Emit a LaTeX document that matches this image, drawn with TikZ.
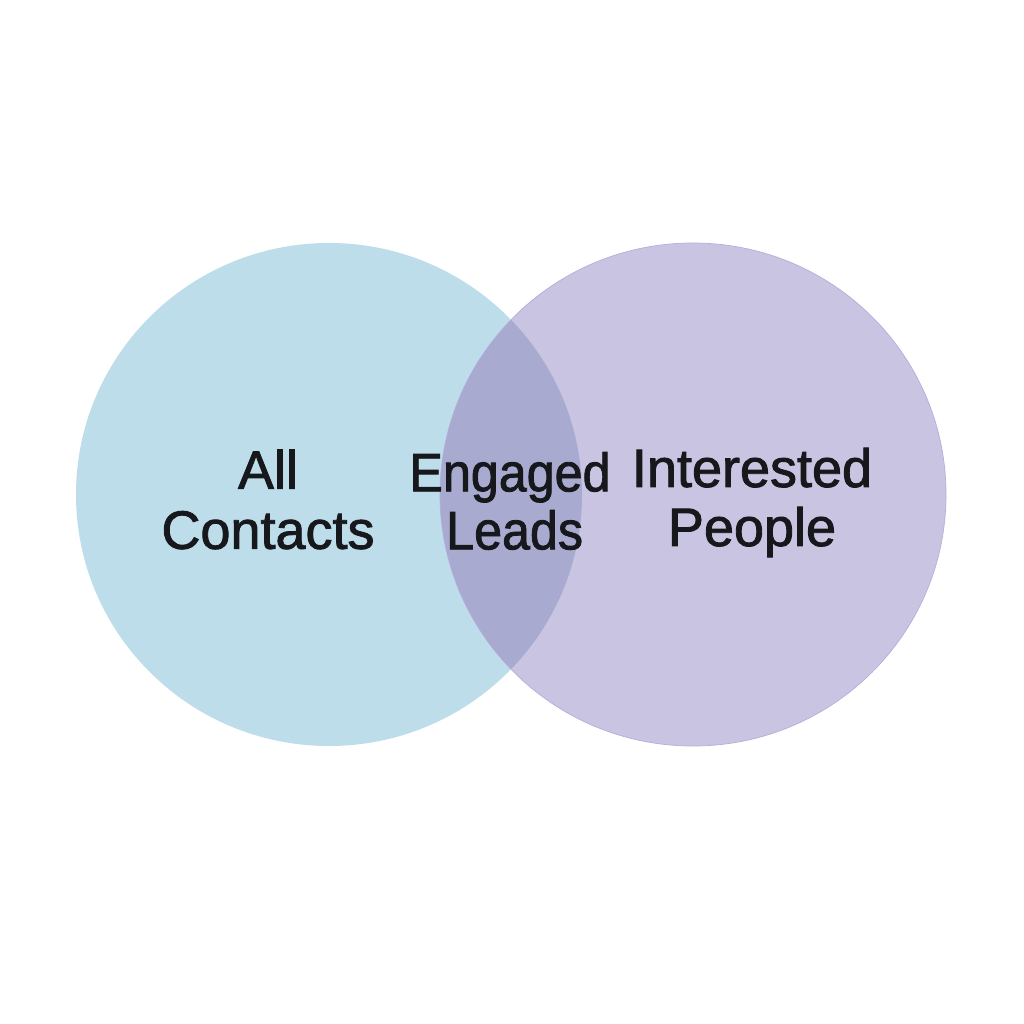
\documentclass[tikz,border=0pt]{standalone}
\usepackage{fontspec}
\setmainfont[FakeBold=1.6]{Liberation Sans}
\definecolor{cblue}{HTML}{BDDDEA}
\definecolor{cpurple}{HTML}{CAC4E3}
\definecolor{cmid}{HTML}{A8AAD0}
\definecolor{cedge}{HTML}{B4AEDA}
\definecolor{ink}{HTML}{16181C}
\tikzset{lab/.style={text=ink,font=\fontsize{54pt}{60pt}\selectfont,align=center,inner sep=0pt}}
\begin{document}
\begin{tikzpicture}[x=1pt,y=-1pt]
\useasboundingbox (0,0) rectangle (1024,1024);
\fill[white] (0,0) rectangle (1024,1024);
\fill[cblue] (329,494.5) ellipse (253 and 251.5);
\fill[cpurple] (693,494.5) ellipse (253 and 251.5);
\begin{scope}
\clip (329,494.5) ellipse (253 and 251.5);
\fill[cmid] (693,494.5) ellipse (253 and 251.5);
\end{scope}
\draw[cedge,line width=0.7pt] (693,494.5) ellipse (253 and 251.5);
\node[lab] (a) at (268,499.5) {All\\Contacts};
\node[lab,font=\fontsize{54pt}{58pt}\selectfont,xscale=0.93] (b) at (510,501) {Engaged\\\hspace*{10pt}Leads};
\node[lab,font=\fontsize{54pt}{59pt}\selectfont] (c) at (752,502.5) {Interested\\People};
\end{tikzpicture}
\end{document}
